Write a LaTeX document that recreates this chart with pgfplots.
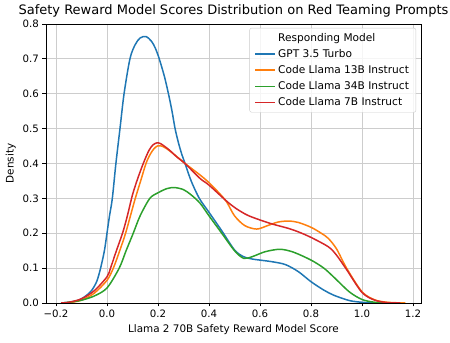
\documentclass[border=0pt]{standalone}
\usepackage{fontspec}
\setmainfont{DejaVu Sans}
\usepackage{pgfplots}
\pgfplotsset{compat=1.18}
\usetikzlibrary{calc}

\definecolor{tabblue}{HTML}{1F77B4}
\definecolor{taborange}{HTML}{FF7F0E}
\definecolor{tabgreen}{HTML}{2CA02C}
\definecolor{tabred}{HTML}{D62728}
\definecolor{gridgray}{RGB}{205,205,205}
\definecolor{framegray}{RGB}{204,204,204}

\begin{document}
\begin{tikzpicture}
\begin{axis}[
    scale only axis,
    width=375pt, height=279pt,
    xmin=-0.239, xmax=1.231,
    ymin=0, ymax=0.8,
    xtick={-0.2,0,0.2,0.4,0.6,0.8,1.0,1.2},
    xticklabels={−0.2,0.0,0.2,0.4,0.6,0.8,1.0,1.2},
    ytick={0,0.1,0.2,0.3,0.4,0.5,0.6,0.7,0.8},
    yticklabels={0.0,0.1,0.2,0.3,0.4,0.5,0.6,0.7,0.8},
    tick align=outside, tick pos=left,
    major tick length=3.5pt,
    tick style={black, line width=0.8pt},
    axis line style={line width=0.8pt},
    grid=major,
    grid style={gridgray, line width=0.8pt},
    ticklabel style={font=\fontsize{10.2}{12}\selectfont},
    label style={font=\fontsize{10.4}{12.5}\selectfont},
    xlabel={Llama 2 70B Safety Reward Model Score},
    ylabel={Density},
    title={Safety Reward Model Scores Distribution on Red Teaming Prompts},
    title style={font=\fontsize{13}{15}\selectfont, yshift=-3pt},
    legend cell align=left,
    legend image code/.code={\draw[#1, line width=1.5pt] (0pt,0pt) -- (20pt,0pt);},
    legend style={at={(0.987,0.986)}, anchor=north east,
        draw=framegray, rounded corners=2pt, fill=white,
        fill opacity=0.8, text opacity=1,
        font=\fontsize{10.6}{12.5}\selectfont,
        row sep=2.6pt, inner xsep=5pt, inner ysep=3pt},
]
\addlegendimage{empty legend}
\addlegendentry{Responding Model}

% GPT 3.5 Turbo
\addplot[tabblue, line width=1.5pt, smooth] coordinates {
(-0.18,0.000) (-0.15,0.002) (-0.12,0.006) (-0.10,0.012) (-0.08,0.022)
(-0.06,0.036) (-0.04,0.062) (-0.025,0.10) (-0.01,0.15) (0.00,0.20)
(0.01,0.25) (0.021,0.30) (0.035,0.40) (0.051,0.50) (0.067,0.60)
(0.09,0.70) (0.11,0.74) (0.13,0.76) (0.153,0.764) (0.175,0.75)
(0.19,0.73) (0.205,0.70) (0.225,0.65) (0.241,0.60) (0.255,0.55)
(0.267,0.50) (0.28,0.46) (0.293,0.427) (0.306,0.40) (0.33,0.35)
(0.362,0.30) (0.40,0.26) (0.45,0.207) (0.50,0.152) (0.535,0.133)
(0.57,0.126) (0.60,0.123) (0.65,0.118) (0.70,0.11) (0.75,0.09)
(0.80,0.061) (0.85,0.037) (0.89,0.022) (0.95,0.007) (1.00,0.002)
(1.05,0.000)
};
\addlegendentry{GPT 3.5 Turbo}

% Code Llama 13B Instruct
\addplot[taborange, line width=1.5pt, smooth] coordinates {
(-0.18,0.000) (-0.15,0.001) (-0.10,0.008) (-0.05,0.028) (0.00,0.065)
(0.025,0.10) (0.05,0.15) (0.073,0.20) (0.092,0.25) (0.111,0.30)
(0.132,0.35) (0.153,0.40) (0.17,0.427) (0.185,0.443) (0.20,0.451)
(0.215,0.45) (0.235,0.442) (0.26,0.428) (0.28,0.416) (0.306,0.40)
(0.365,0.367) (0.40,0.345) (0.44,0.315)
(0.469,0.29) (0.50,0.25) (0.54,0.222) (0.587,0.212) (0.63,0.222)
(0.67,0.232) (0.711,0.235) (0.75,0.231) (0.80,0.217) (0.84,0.20)
(0.868,0.185) (0.90,0.155) (0.94,0.099) (1.00,0.032) (1.05,0.009)
(1.10,0.002) (1.17,0.000)
};
\addlegendentry{Code Llama 13B Instruct}

% Code Llama 34B Instruct
\addplot[tabgreen, line width=1.5pt, smooth] coordinates {
(-0.18,0.000) (-0.15,0.002) (-0.10,0.008) (-0.05,0.02) (0.00,0.043)
(0.048,0.10) (0.075,0.15) (0.103,0.20) (0.13,0.25) (0.168,0.30)
(0.20,0.316) (0.235,0.328) (0.265,0.331) (0.30,0.325) (0.33,0.31)
(0.365,0.286) (0.40,0.25) (0.45,0.20) (0.50,0.15) (0.536,0.128)
(0.57,0.133) (0.62,0.147) (0.678,0.154) (0.73,0.146) (0.80,0.123)
(0.85,0.10) (0.888,0.075) (0.95,0.032) (1.00,0.01) (1.05,0.002)
(1.10,0.000)
};
\addlegendentry{Code Llama 34B Instruct}

% Code Llama 7B Instruct
\addplot[tabred, line width=1.5pt, smooth] coordinates {
(-0.18,0.000) (-0.15,0.002) (-0.10,0.012) (-0.05,0.035) (0.00,0.075)
(0.014,0.10) (0.037,0.15) (0.061,0.20) (0.08,0.25) (0.10,0.31)
(0.122,0.36) (0.145,0.405) (0.165,0.438) (0.18,0.453) (0.195,0.459)
(0.21,0.457) (0.23,0.447) (0.25,0.435) (0.275,0.418) (0.306,0.40)
(0.365,0.357) (0.40,0.338) (0.469,0.292)
(0.506,0.271) (0.55,0.252) (0.60,0.238) (0.65,0.226) (0.711,0.214)
(0.75,0.204) (0.80,0.188) (0.868,0.161) (0.90,0.137) (0.94,0.095)
(1.00,0.03) (1.05,0.008) (1.10,0.001) (1.15,0.000)
};
\addlegendentry{Code Llama 7B Instruct}
\end{axis}
\pgfresetboundingbox
\useasboundingbox ($(current axis.south west)+(-46pt,-40pt)$) rectangle ($(current axis.north east)+(29pt,24pt)$);
\end{tikzpicture}
\end{document}
